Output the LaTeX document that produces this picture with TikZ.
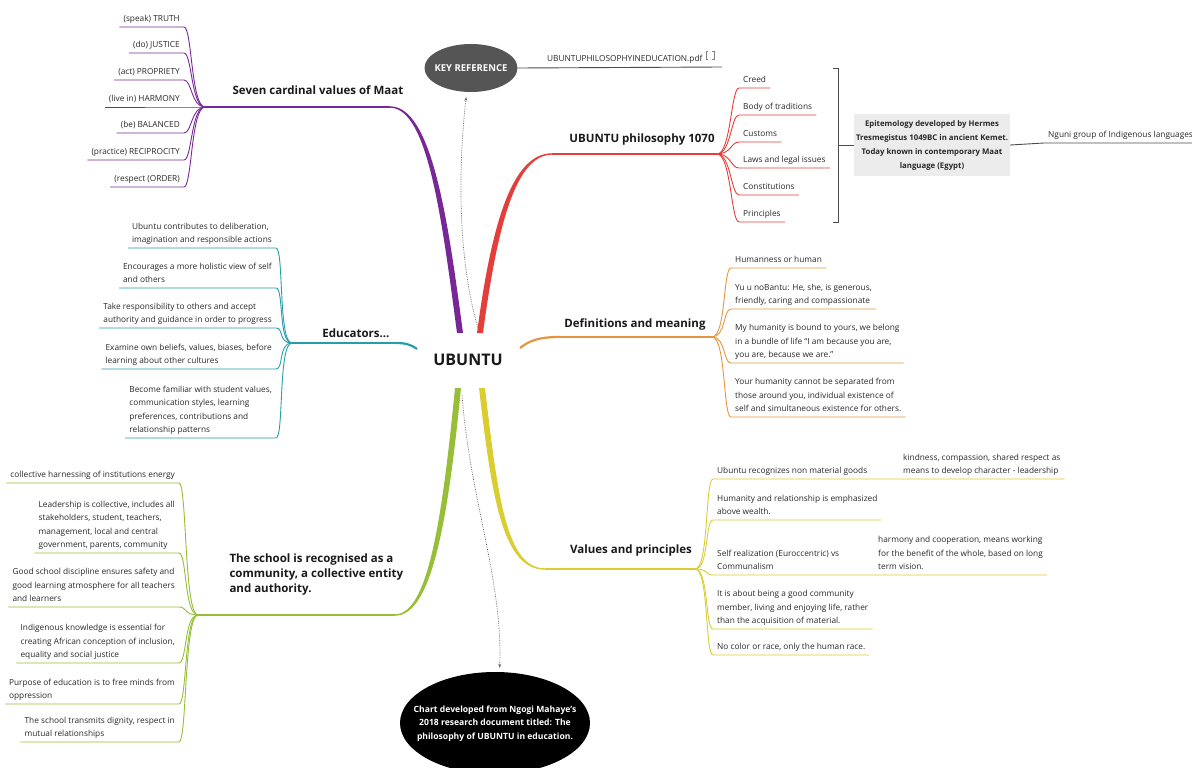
\documentclass[tikz,border=0pt]{standalone}
\usepackage{fontspec}
\setmainfont{Open Sans}
\usetikzlibrary{shapes.geometric,arrows.meta}

\definecolor{maatc}{RGB}{120,40,150}
\definecolor{philc}{RGB}{228,62,58}
\definecolor{educ}{RGB}{38,158,168}
\definecolor{defc}{RGB}{228,150,62}
\definecolor{valc}{RGB}{218,205,50}
\definecolor{schc}{RGB}{150,190,55}
\definecolor{keyc}{RGB}{85,85,85}
\definecolor{inkc}{RGB}{40,40,40}

\begin{document}
\begin{tikzpicture}[x=1pt, y=-1pt,
  leaf/.style={inner xsep=4pt, inner ysep=3pt, align=left, text=inkc,
    font=\fontsize{8.3}{13.5}\selectfont, execute at end node={\vphantom{gy}}},
  leafl/.style={leaf, anchor=south east},
  leafr/.style={leaf, anchor=south west},
  topic/.style={font=\fontsize{11.5}{15}\selectfont\bfseries, text=black!90},
  link/.style={line width=0.9pt},
  kidl/.style={to path={.. controls +(-14,0) and +(8,0) .. (\tikztotarget)}},
  kidr/.style={to path={.. controls +(14,0) and +(-8,0) .. (\tikztotarget)}},
  dotlink/.style={densely dotted, line width=0.7pt, black!60, -{Stealth[length=4pt,width=3pt]}},
  ]
\useasboundingbox (0,0) rectangle (1192,768);

% centre topic
\node[font=\fontsize{16}{18}\selectfont\bfseries, text=black!90] (ubuntu) at (468,360) {UBUNTU};

% Seven cardinal values of Maat
\coordinate (maatroot) at (390,107);
\coordinate (maathub) at (205,107);
\fill[maatc] (457,333) .. controls (442,220) and (428,107.7) .. (390,107.7) -- (390,106.3) .. controls (432,106.3) and (448,220) .. (463,333) -- cycle;
\draw[maatc, line width=1.3pt] (maatroot) -- (maathub);
\node[topic] (maat) at (318,90) {Seven cardinal values of Maat};
\node[leafl] (truth) at (184,27) {(speak) TRUTH};
\node[leafl] (justice) at (184,53) {(do) JUSTICE};
\node[leafl] (propriety) at (184,80) {(act) PROPRIETY};
\node[leafl] (harmony) at (184,107) {(live in) HARMONY};
\node[leafl] (balanced) at (184,133) {(be) BALANCED};
\node[leafl] (reciprocity) at (184,160) {(practice) RECIPROCITY};
\node[leafl] (order) at (184,187) {(respect (ORDER)};
\draw[maatc, link] (maathub) to[kidl] (truth.south east) -- (truth.south west);
\draw[maatc, link] (maathub) to[kidl] (justice.south east) -- (justice.south west);
\draw[maatc, link] (maathub) to[kidl] (propriety.south east) -- (propriety.south west);
\draw[maatc, link] (maathub) -- (harmony.south east) -- (harmony.south west);
\draw[maatc, link] (maathub) to[kidl] (balanced.south east) -- (balanced.south west);
\draw[maatc, link] (maathub) to[kidl] (reciprocity.south east) -- (reciprocity.south west);
\draw[maatc, link] (maathub) to[kidl] (order.south east) -- (order.south west);

% UBUNTU philosophy
\coordinate (philroot) at (552,154);
\coordinate (philhub) at (717,154);
\fill[philc] (477,333) .. controls (492,220) and (513,153.3) .. (552,153.3) -- (552,154.7) .. controls (517,154.7) and (498,220) .. (483,333) -- cycle;
\draw[philc, line width=1.3pt] (philroot) -- (philhub);
\node[topic] (phil) at (642,140) {UBUNTU philosophy 1070};
\node[leafr] (creed) at (739,88) {Creed};
\node[leafr] (traditions) at (739,115) {Body of traditions};
\node[leafr] (customs) at (739,142) {Customs};
\node[leafr] (laws) at (739,168) {Laws and legal issues};
\node[leafr] (constitutions) at (739,195) {Constitutions};
\node[leafr] (principles) at (739,222) {Principles};
\draw[philc, link] (philhub) to[kidr] (creed.south west) -- (creed.south east);
\draw[philc, link] (philhub) to[kidr] (traditions.south west) -- (traditions.south east);
\draw[philc, link] (philhub) to[kidr] (customs.south west) -- (customs.south east);
\draw[philc, link] (philhub) to[kidr] (laws.south west) -- (laws.south east);
\draw[philc, link] (philhub) to[kidr] (constitutions.south west) -- (constitutions.south east);
\draw[philc, link] (philhub) to[kidr] (principles.south west) -- (principles.south east);

% summary bracket
\coordinate (brace) at (838,145);
\draw[black!70, link] (833,68) -- (838,68) -- (838,222) -- (833,222);
\node[fill=gray!15, text=inkc, font=\fontsize{7.8}{14}\selectfont\bfseries, align=center, inner xsep=2pt, inner ysep=6pt] (epist) at (932,145) {Epitemology developed by Hermes\\Tresmegistus 1049BC in ancient Kemet.\\Today known in contemporary Maat\\language (Egypt)};
\draw[black!70, link] (brace) -- (epist.west);
\node[leafr] (nguni) at (1044,143) {Nguni group of Indigenous languages};
\draw[black!70, link] (epist.east) -- (nguni.south west) -- (nguni.south east);

% key reference
\node[ellipse, fill=keyc, text=white, font=\fontsize{9.5}{10}\selectfont\bfseries, minimum width=93pt, minimum height=48pt, inner sep=0pt] (keyref) at (471,68) {\makebox[0pt]{KEY REFERENCE}};
\node[leafr] (pdf) at (543,67) {UBUNTUPHILOSOPHYINEDUCATION.pdf};
\coordinate (pdfend) at (722,67);
\draw[black!70, link] (keyref.east) -- (pdfend);
\draw[gray, line width=0.6pt] (708,51) -- (706,51) -- (706,59) -- (708,59) (712,51) -- (714,51) -- (714,59) -- (712,59);
\coordinate (dottop) at (478,328);
\draw[dotlink, shorten >=5pt] (dottop) .. controls (455,250) and (460,150) .. (keyref.-100);

% Educators
\coordinate (eduroot) at (395,343);
\coordinate (eduhub) at (292,343);
\draw[educ, line width=2.2pt] (417,349) .. controls (410,344) and (405,343) .. (eduroot);
\draw[educ, line width=1.3pt] (eduroot) -- (eduhub);
\node[topic] (educators) at (356,333) {Educators...};
\node[leafl] (edu1) at (276,248) {Ubuntu contributes to deliberation,\\imagination and responsible actions};
\node[leafl] (edu2) at (276,288) {Encourages a more holistic view of self\\and others};
\node[leafl] (edu3) at (276,328) {Take responsibility to others and accept\\authority and guidance in order to progress};
\node[leafl] (edu4) at (276,369) {Examine own beliefs, values, biases, before\\learning about other cultures};
\node[leafl] (edu5) at (276,438) {Become familiar with student values,\\communication styles, learning\\preferences, contributions and\\relationship patterns};
\draw[educ, link] (eduhub) to[kidl] (edu1.south east) -- (edu1.south west);
\draw[educ, link] (eduhub) to[kidl] (edu2.south east) -- (edu2.south west);
\draw[educ, link] (eduhub) to[kidl] (edu3.south east) -- (edu3.south west);
\draw[educ, link] (eduhub) to[kidl] (edu4.south east) -- (edu4.south west);
\draw[educ, link] (eduhub) to[kidl] (edu5.south east) -- (edu5.south west);

% Definitions and meaning
\coordinate (defroot) at (560,337);
\coordinate (defhub) at (712,337);
\draw[defc, line width=2.2pt] (520,348) .. controls (530,340) and (540,337) .. (defroot);
\draw[defc, line width=1.3pt] (defroot) -- (defhub);
\node[topic] (defs) at (635,324) {Definitions and meaning};
\node[leafr] (def1) at (731,268) {Humanness or human};
\node[leafr] (def2) at (731,309) {Yu u noBantu: He, she, is generous,\\friendly, caring and compassionate};
\node[leafr] (def3) at (731,363) {My humanity is bound to yours, we belong\\in a bundle of life “I am because you are,\\you are, because we are.”};
\node[leafr] (def4) at (731,417) {Your humanity cannot be separated from\\those around you, individual existence of\\self and simultaneous existence for others.};
\draw[defc, link] (defhub) to[kidr] (def1.south west) -- (def1.south east);
\draw[defc, link] (defhub) to[kidr] (def2.south west) -- (def2.south east);
\draw[defc, link] (defhub) to[kidr] (def3.south west) -- (def3.south east);
\draw[defc, link] (defhub) to[kidr] (def4.south west) -- (def4.south east);

% Values and principles
\coordinate (valroot) at (545,569);
\coordinate (valhub) at (695,569);
\fill[valc] (479,388) .. controls (492,500) and (503,569.7) .. (545,569.7) -- (545,568.3) .. controls (507,568.3) and (498,500) .. (485,388) -- cycle;
\draw[valc, line width=1.3pt] (valroot) -- (valhub);
\node[topic] (values) at (631,551) {Values and principles};
\node[leafr] (val1) at (713,479) {Ubuntu recognizes non material goods};
\node[leafr] (kindness) at (899,479) {kindness, compassion, shared respect as\\means to develop character - leadership};
\node[leafr] (val2) at (713,520) {Humanity and relationship is emphasized\\above wealth.};
\node[leafr] (val3) at (713,575) {Self realization (Euroccentric) vs\\Communalism};
\node[leafr] (cooperation) at (874,575) {harmony and cooperation, means working\\for the benefit of the whole, based on long\\term vision.};
\node[leafr] (val4) at (713,629) {It is about being a good community\\member, living and enjoying life, rather\\than the acquisition of material.};
\node[leafr] (val5) at (713,655) {No color or race, only the human race.};
\draw[valc, link] (valhub) to[kidr] (val1.south west) -- (val1.south east) -- (kindness.south west) -- (kindness.south east);
\draw[valc, link] (valhub) to[kidr] (val2.south west) -- (val2.south east);
\draw[valc, link] (valhub) to[kidr] (val3.south west) -- (val3.south east) -- (cooperation.south west) -- (cooperation.south east);
\draw[valc, link] (valhub) to[kidr] (val4.south west) -- (val4.south east);
\draw[valc, link] (valhub) to[kidr] (val5.south west) -- (val5.south east);

% The school
\coordinate (schroot) at (395,615);
\coordinate (schhub) at (198,615);
\fill[schc] (455,388) .. controls (442,520) and (428,614.3) .. (395,614.3) -- (395,615.7) .. controls (432,615.7) and (448,520) .. (461,388) -- cycle;
\draw[schc, line width=1.3pt] (schroot) -- (schhub);
\node[topic, align=left, anchor=west] (school) at (226,575) {The school is recognised as a\\community, a collective entity\\and authority.};
\node[leafl] (sch1) at (179,483) {collective harnessing of institutions energy};
\node[leafl] (sch2) at (179,553) {Leadership is collective, includes all\\stakeholders, student, teachers,\\management, local and central\\government, parents, community};
\node[leafl] (sch3) at (179,607) {Good school discipline ensures safety and\\good learning atmosphere for all teachers\\and learners};
\node[leafl] (sch4) at (179,663) {Indigenous knowledge is essential for\\creating African conception of inclusion,\\equality and social justice};
\node[leafl] (sch5) at (179,704) {Purpose of education is to free minds from\\oppression};
\node[leafl] (sch6) at (179,742) {The school transmits dignity, respect in\\mutual relationships};
\draw[schc, link] (schhub) to[kidl] (sch1.south east) -- (sch1.south west);
\draw[schc, link] (schhub) to[kidl] (sch2.south east) -- (sch2.south west);
\draw[schc, link] (schhub) to[kidl] (sch3.south east) -- (sch3.south west);
\draw[schc, link] (schhub) to[kidl] (sch4.south east) -- (sch4.south west);
\draw[schc, link] (schhub) to[kidl] (sch5.south east) -- (sch5.south west);
\draw[schc, link] (schhub) to[kidl] (sch6.south east) -- (sch6.south west);

% source note
\node[ellipse, fill=black, text=white, font=\fontsize{8.6}{13.5}\selectfont\bfseries, minimum width=190pt, minimum height=102pt, inner sep=0pt] (chart) at (495,723) {\makebox[0pt]{\begin{tabular}{@{}c@{}}Chart developed from Ngogi Mahaye's\\2018 research document titled: The\\philosophy of UBUNTU in education.\end{tabular}}};
\coordinate (dotbot) at (462,395);
\draw[dotlink, shorten >=4pt] (dotbot) .. controls (470,500) and (503,580) .. (chart.85);

\end{tikzpicture}
\end{document}
